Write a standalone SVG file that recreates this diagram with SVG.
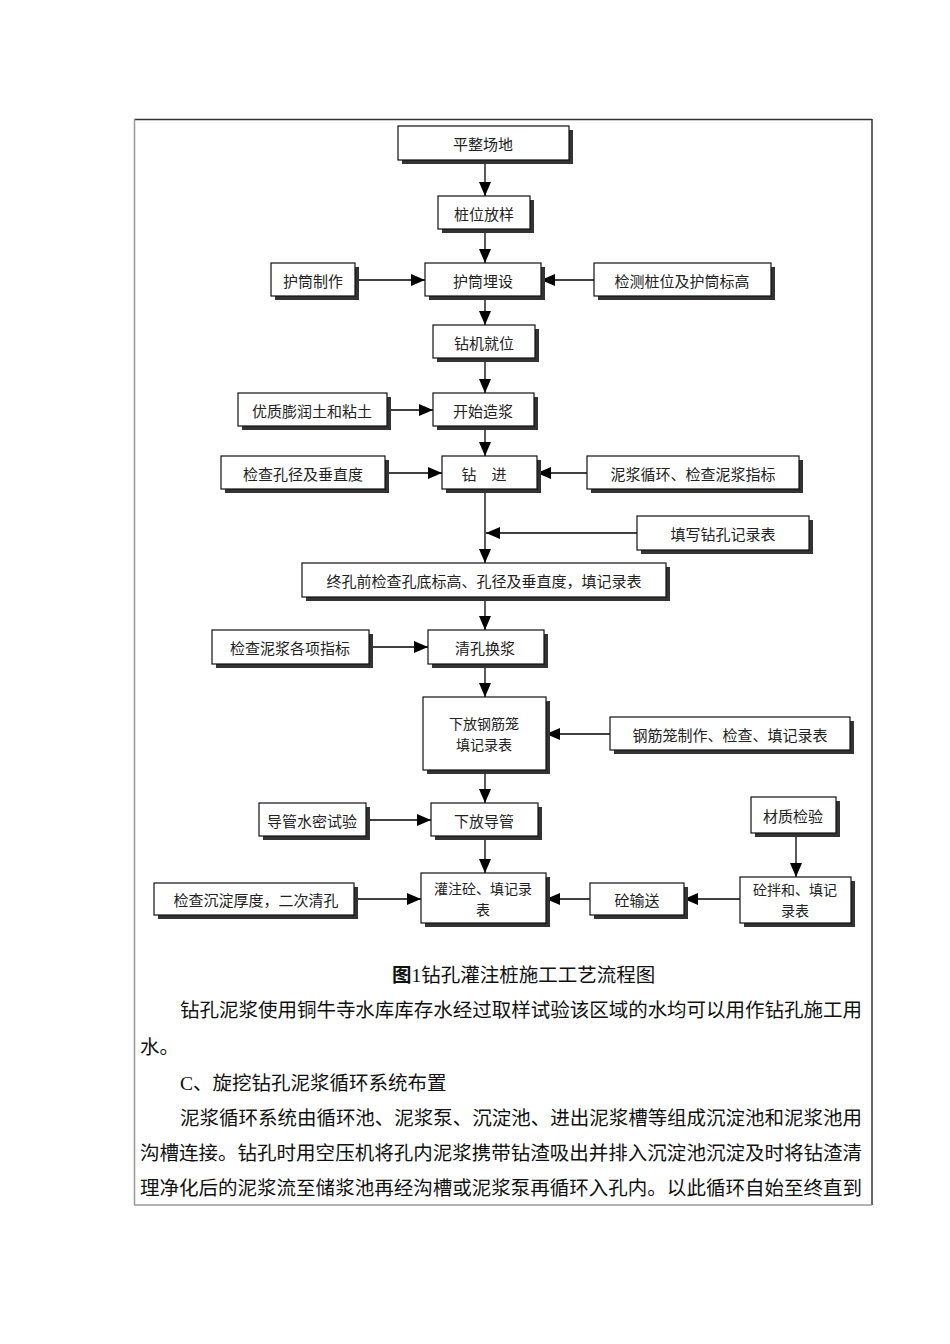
<svg xmlns="http://www.w3.org/2000/svg" width="950" height="1344" viewBox="0 0 950 1344">
  <defs>
    <marker id="ah" markerUnits="userSpaceOnUse" markerWidth="14" markerHeight="12" refX="14" refY="6" orient="auto">
      <path d="M0,0 L14,6 L0,12 Z" fill="#000"/>
    </marker>
    <style>
      .box { fill: #fff; stroke: #111; stroke-width: 1.2; }
      .shd { fill: #333; }
      .lbl { font-family: "Noto Sans CJK SC", "Noto Sans", sans-serif; font-size: 15px; fill: #222; text-anchor: middle; dominant-baseline: central; }
      .lbl2 { font-size: 14px; }
      .con { stroke: #000; stroke-width: 1.3; fill: none; marker-end: url(#ah); }
      .body { font-family: "Liberation Serif", "Noto Sans CJK SC", serif; font-size: 19.5px; fill: #111; dominant-baseline: central; }
      .frame { stroke-width: 1.5; fill: none; }
    </style>
  </defs>
  <rect width="950" height="1344" fill="#fff"/>

  <!-- page frame -->
  <line class="frame" x1="134" y1="119.5" x2="872" y2="119.5" stroke="#333"/>
  <line class="frame" x1="134.5" y1="119" x2="134.5" y2="1205" stroke="#999" stroke-width="2"/>
  <line class="frame" x1="872" y1="119" x2="872" y2="1205" stroke="#333"/>
  <line class="frame" x1="134" y1="1205" x2="872" y2="1205" stroke="#999"/>

  <!-- connectors -->
  <g id="connectors">
    <line class="con" x1="485" y1="160" x2="485" y2="196"/>
    <line class="con" x1="485" y1="229" x2="485" y2="263"/>
    <line class="con" x1="355" y1="280" x2="425" y2="280"/>
    <line class="con" x1="594" y1="280" x2="541" y2="280"/>
    <line class="con" x1="485" y1="296" x2="485" y2="325"/>
    <line class="con" x1="485" y1="358" x2="485" y2="393"/>
    <line class="con" x1="387" y1="410" x2="433" y2="410"/>
    <line class="con" x1="485" y1="426" x2="485" y2="456"/>
    <line class="con" x1="385" y1="473" x2="442" y2="473"/>
    <line class="con" x1="587" y1="473" x2="537" y2="473"/>
    <line class="con" x1="485" y1="489" x2="485" y2="563"/>
    <line class="con" x1="637" y1="533" x2="486" y2="533"/>
    <line class="con" x1="485" y1="597" x2="485" y2="630"/>
    <line class="con" x1="369" y1="647" x2="428" y2="647"/>
    <line class="con" x1="485" y1="664" x2="485" y2="697"/>
    <line class="con" x1="610" y1="734" x2="546" y2="734"/>
    <line class="con" x1="485" y1="770" x2="485" y2="803"/>
    <line class="con" x1="370" y1="820" x2="431" y2="820"/>
    <line class="con" x1="485" y1="836" x2="485" y2="873"/>
    <line class="con" x1="358" y1="899" x2="421" y2="899"/>
    <line class="con" x1="590" y1="899" x2="546" y2="899"/>
    <line class="con" x1="740" y1="899" x2="684" y2="899"/>
    <line class="con" x1="796" y1="833" x2="796" y2="877"/>
  </g>

  <g id="n1"><rect class="shd" x="402" y="130" width="171" height="34"/><rect class="box" x="398" y="126" width="171" height="34"/><text class="lbl" x="483" y="143">平整场地</text></g>
  <g id="n2"><rect class="shd" x="442" y="200" width="92" height="33"/><rect class="box" x="438" y="196" width="92" height="33"/><text class="lbl" x="484" y="213">桩位放样</text></g>
  <g id="n3"><rect class="shd" x="275" y="267" width="84" height="33"/><rect class="box" x="271" y="263" width="84" height="33"/><text class="lbl" x="313" y="280">护筒制作</text></g>
  <g id="n4"><rect class="shd" x="429" y="267" width="116" height="33"/><rect class="box" x="425" y="263" width="116" height="33"/><text class="lbl" x="483" y="280">护筒埋设</text></g>
  <g id="n5"><rect class="shd" x="598" y="267" width="177" height="33"/><rect class="box" x="594" y="263" width="177" height="33"/><text class="lbl" x="682" y="280">检测桩位及护筒标高</text></g>
  <g id="n6"><rect class="shd" x="437" y="329" width="102" height="33"/><rect class="box" x="433" y="325" width="102" height="33"/><text class="lbl" x="484" y="342">钻机就位</text></g>
  <g id="n7"><rect class="shd" x="242" y="397" width="149" height="33"/><rect class="box" x="238" y="393" width="149" height="33"/><text class="lbl" x="312" y="410">优质膨润土和粘土</text></g>
  <g id="n8"><rect class="shd" x="437" y="397" width="101" height="33"/><rect class="box" x="433" y="393" width="101" height="33"/><text class="lbl" x="483" y="410">开始造浆</text></g>
  <g id="n9"><rect class="shd" x="225" y="460" width="164" height="33"/><rect class="box" x="221" y="456" width="164" height="33"/><text class="lbl" x="303" y="473">检查孔径及垂直度</text></g>
  <g id="n10"><rect class="shd" x="446" y="460" width="95" height="33"/><rect class="box" x="442" y="456" width="95" height="33"/><text class="lbl" x="484" y="473">钻　进</text></g>
  <g id="n11"><rect class="shd" x="591" y="460" width="212" height="33"/><rect class="box" x="587" y="456" width="212" height="33"/><text class="lbl" x="693" y="473">泥浆循环、检查泥浆指标</text></g>
  <g id="n12"><rect class="shd" x="641" y="520" width="172" height="34"/><rect class="box" x="637" y="516" width="172" height="34"/><text class="lbl" x="723" y="533">填写钻孔记录表</text></g>
  <g id="n13"><rect class="shd" x="306" y="567" width="364" height="34"/><rect class="box" x="302" y="563" width="364" height="34"/><text class="lbl" x="484" y="580">终孔前检查孔底标高、孔径及垂直度，填记录表</text></g>
  <g id="n14"><rect class="shd" x="216" y="634" width="157" height="34"/><rect class="box" x="212" y="630" width="157" height="34"/><text class="lbl" x="290" y="647">检查泥浆各项指标</text></g>
  <g id="n15"><rect class="shd" x="432" y="634" width="116" height="34"/><rect class="box" x="428" y="630" width="116" height="34"/><text class="lbl" x="485" y="647">清孔换浆</text></g>
  <g id="n16"><rect class="shd" x="427" y="701" width="123" height="73"/><rect class="box" x="423" y="697" width="123" height="73"/><text class="lbl lbl2" x="484" y="723">下放钢筋笼</text><text class="lbl lbl2" x="484" y="744">填记录表</text></g>
  <g id="n17"><rect class="shd" x="614" y="721" width="240" height="33"/><rect class="box" x="610" y="717" width="240" height="33"/><text class="lbl" x="730" y="734">钢筋笼制作、检查、填记录表</text></g>
  <g id="n18"><rect class="shd" x="263" y="807" width="107" height="33"/><rect class="box" x="259" y="803" width="107" height="33"/><text class="lbl" x="312" y="820">导管水密试验</text></g>
  <g id="n19"><rect class="shd" x="435" y="807" width="107" height="33"/><rect class="box" x="431" y="803" width="107" height="33"/><text class="lbl" x="484" y="820">下放导管</text></g>
  <g id="n20"><rect class="shd" x="755" y="801" width="85" height="36"/><rect class="box" x="751" y="797" width="85" height="36"/><text class="lbl" x="793" y="815">材质检验</text></g>
  <g id="n21"><rect class="shd" x="425" y="877" width="125" height="50"/><rect class="box" x="421" y="873" width="125" height="50"/><text class="lbl lbl2" x="483" y="888">灌注砼、填记录</text><text class="lbl lbl2" x="483" y="909">表</text></g>
  <g id="n22"><rect class="shd" x="158" y="887" width="200" height="32"/><rect class="box" x="154" y="883" width="200" height="32"/><text class="lbl" x="256" y="899">检查沉淀厚度，二次清孔</text></g>
  <g id="n23"><rect class="shd" x="594" y="887" width="94" height="32"/><rect class="box" x="590" y="883" width="94" height="32"/><text class="lbl" x="637" y="899">砼输送</text></g>
  <g id="n24"><rect class="shd" x="744" y="881" width="111" height="46"/><rect class="box" x="740" y="877" width="111" height="46"/><text class="lbl lbl2" x="795" y="889">砼拌和、填记</text><text class="lbl lbl2" x="795" y="910">录表</text></g>

  <!-- caption and body text -->
  <text class="body" x="392" y="975" font-size="18"><tspan font-weight="bold">图</tspan>1钻孔灌注桩施工工艺流程图</text>
  <text class="body" x="180" y="1010" textLength="682" lengthAdjust="spacing">钻孔泥浆使用铜牛寺水库库存水经过取样试验该区域的水均可以用作钻孔施工用</text>
  <text class="body" x="140" y="1047">水。</text>
  <text class="body" x="180" y="1083">C、旋挖钻孔泥浆循环系统布置</text>
  <text class="body" x="180" y="1118" textLength="682" lengthAdjust="spacing">泥浆循环系统由循环池、泥浆泵、沉淀池、进出泥浆槽等组成沉淀池和泥浆池用</text>
  <text class="body" x="140" y="1153" textLength="722" lengthAdjust="spacing">沟槽连接。钻孔时用空压机将孔内泥浆携带钻渣吸出并排入沉淀池沉淀及时将钻渣清</text>
  <text class="body" x="140" y="1188" textLength="722" lengthAdjust="spacing">理净化后的泥浆流至储浆池再经沟槽或泥浆泵再循环入孔内。以此循环自始至终直到</text>
</svg>
